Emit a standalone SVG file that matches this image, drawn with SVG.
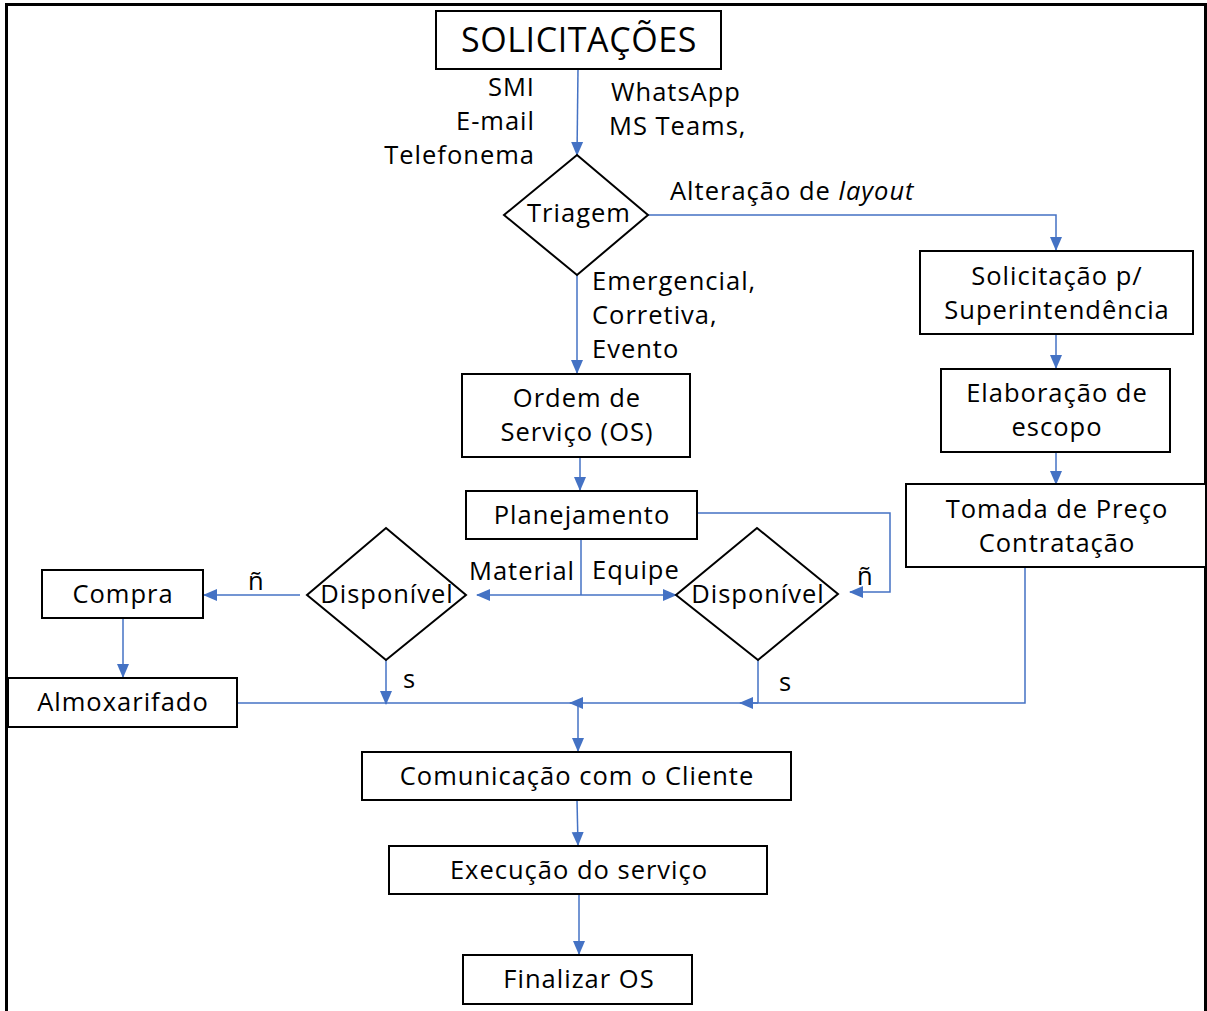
<svg xmlns="http://www.w3.org/2000/svg" width="1207" height="1011" viewBox="0 0 1207 1011">
<defs>
<marker id="ah" markerUnits="userSpaceOnUse" markerWidth="14" markerHeight="14" viewBox="0 0 14 14" refX="13" refY="7" orient="auto">
<path d="M0,1 L14,7 L0,13 Z" fill="#4472C4"/>
</marker>
</defs>
<style>
.box{fill:#fff;stroke:#000;stroke-width:2}
.t{font-family:"Open Sans","Noto Sans",sans-serif;font-size:25.5px;letter-spacing:1px;fill:#000;text-anchor:middle}
.l{font-family:"Open Sans","Noto Sans",sans-serif;font-size:25.5px;letter-spacing:1px;fill:#000}
.r{text-anchor:end}
.c{fill:none;stroke:#4472C4;stroke-width:1.5}
.a{marker-end:url(#ah)}
</style>
<rect x="6.5" y="4.5" width="1199" height="1030" fill="#fff" stroke="#000" stroke-width="3"/>

<g id="connectors">
<line class="c a" x1="578" y1="69" x2="577" y2="155"/>
<polyline class="c a" points="648,215 1056,215 1056,250"/>
<line class="c a" x1="577" y1="275" x2="577" y2="373"/>
<line class="c a" x1="1056" y1="334" x2="1056" y2="368"/>
<line class="c a" x1="1056" y1="452" x2="1056" y2="484"/>
<line class="c a" x1="580" y1="457" x2="580" y2="490"/>
<polyline class="c a" points="697,513 890,513 890,592 850,592"/>
<line class="c" x1="581" y1="539" x2="581" y2="595"/>
<line class="c a" x1="581" y1="595" x2="477" y2="595"/>
<line class="c a" x1="581" y1="595" x2="676" y2="595"/>
<line class="c a" x1="300" y1="595" x2="204" y2="595"/>
<line class="c a" x1="123" y1="618" x2="123" y2="677"/>
<line class="c a" x1="386" y1="660" x2="386" y2="704"/>
<line class="c" x1="237" y1="703" x2="578" y2="703"/>
<polyline class="c a" points="1025,567 1025,703 740,703"/>
<line class="c" x1="758" y1="660" x2="758" y2="703"/>
<line class="c a" x1="758" y1="703" x2="570" y2="703"/>
<line class="c a" x1="578" y1="703" x2="578" y2="751"/>
<line class="c a" x1="577" y1="800" x2="578" y2="845"/>
<line class="c a" x1="579" y1="894" x2="579" y2="954"/>
</g>

<g id="labels">
<text class="l r" x="535" y="96">SMI</text>
<text class="l r" x="535" y="130">E-mail</text>
<text class="l r" x="535" y="164">Telefonema</text>
<text class="l" x="611" y="101">WhatsApp</text>
<text class="l" x="609" y="135">MS Teams,</text>
<text class="l" x="670" y="200">Alteração de <tspan font-style="italic">layout</tspan></text>
<text class="l" x="592" y="290">Emergencial,</text>
<text class="l" x="592" y="324">Corretiva,</text>
<text class="l" x="592" y="358">Evento</text>
<text class="l r" x="575" y="580">Material</text>
<text class="l" x="592" y="579">Equipe</text>
<text class="l" x="248" y="590">ñ</text>
<text class="l" x="857" y="585">ñ</text>
<text class="l" x="403" y="688">s</text>
<text class="l" x="779" y="691">s</text>
</g>

<g id="solicitacoes">
<rect class="box" x="436" y="11" width="285" height="58"/>
<text class="t" x="579" y="52" style="font-size:34px;letter-spacing:0.6px">SOLICITAÇÕES</text>
</g>
<g id="triagem">
<polygon class="box" points="577,155 648,215 577,275 504,215"/>
<text class="t" x="579" y="222">Triagem</text>
</g>
<g id="solicitacao-sup">
<rect class="box" x="920" y="251" width="273" height="83"/>
<text class="t" x="1057" y="285">Solicitação p/</text>
<text class="t" x="1057" y="319">Superintendência</text>
</g>
<g id="elaboracao">
<rect class="box" x="941" y="369" width="229" height="83"/>
<text class="t" x="1057" y="402">Elaboração de</text>
<text class="t" x="1057" y="436">escopo</text>
</g>
<g id="tomada">
<rect class="box" x="906" y="484" width="300" height="83"/>
<text class="t" x="1057" y="518">Tomada de Preço</text>
<text class="t" x="1057" y="552">Contratação</text>
</g>
<g id="ordem">
<rect class="box" x="462" y="374" width="228" height="83"/>
<text class="t" x="577" y="407">Ordem de</text>
<text class="t" x="577" y="441">Serviço (OS)</text>
</g>
<g id="planejamento">
<rect class="box" x="466" y="491" width="231" height="48"/>
<text class="t" x="582" y="524">Planejamento</text>
</g>
<g id="disponivel-material">
<polygon class="box" points="386,528 466,595 386,660 307,595"/>
<text class="t" x="387" y="603">Disponível</text>
</g>
<g id="disponivel-equipe">
<polygon class="box" points="757,528 838,594 758,660 676,595"/>
<text class="t" x="758" y="603">Disponível</text>
</g>
<g id="compra">
<rect class="box" x="42" y="570" width="161" height="48"/>
<text class="t" x="123" y="603">Compra</text>
</g>
<g id="almoxarifado">
<rect class="box" x="8" y="678" width="229" height="49"/>
<text class="t" x="123" y="711">Almoxarifado</text>
</g>
<g id="comunicacao">
<rect class="box" x="362" y="752" width="429" height="48"/>
<text class="t" x="577" y="785">Comunicação com o Cliente</text>
</g>
<g id="execucao">
<rect class="box" x="389" y="846" width="378" height="48"/>
<text class="t" x="579" y="879">Execução do serviço</text>
</g>
<g id="finalizar">
<rect class="box" x="463" y="955" width="229" height="49"/>
<text class="t" x="579" y="988">Finalizar OS</text>
</g>
</svg>
